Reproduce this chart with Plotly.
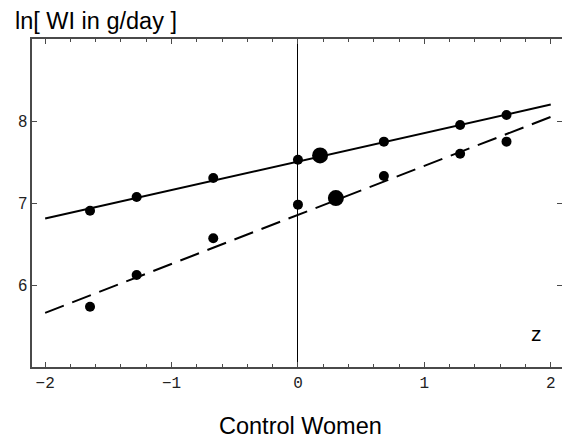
import plotly.graph_objects as go

# ---- data ----
z_upper = [-1.645, -1.276, -0.67, 0.0, 0.68, 1.283, 1.65]
y_upper = [6.906, 7.073, 7.305, 7.528, 7.748, 7.951, 8.073]
z_upper_big = [0.175]
y_upper_big = [7.58]

z_lower = [-1.645, -1.276, -0.67, 0.0, 0.68, 1.283, 1.65]
y_lower = [5.735, 6.122, 6.57, 6.98, 7.33, 7.60, 7.748]
z_lower_big = [0.30]
y_lower_big = [7.06]

fit_z = [-2.0, 2.0]
fit_upper = [6.81, 8.20]
fit_lower = [5.66, 8.05]

x_ticks = [-2, -1, 0, 1, 2]
x_tick_text = ["\u22122", "\u22121", "0", "1", "2"]
y_ticks = [6, 7, 8]

FRAME = "#4a4a4a"
X_RANGE = [-2.104, 2.089]
Y_RANGE = [5, 9]

fig = go.Figure()

fig.add_trace(go.Scatter(x=fit_z, y=fit_upper, mode="lines",
                         line=dict(color="black", width=2), showlegend=False))
fig.add_trace(go.Scatter(x=fit_z, y=fit_lower, mode="lines",
                         line=dict(color="black", width=2, dash="20px,9px"), showlegend=False))
fig.add_trace(go.Scatter(x=z_upper, y=y_upper, mode="markers",
                         marker=dict(color="black", size=10), showlegend=False))
fig.add_trace(go.Scatter(x=z_lower, y=y_lower, mode="markers",
                         marker=dict(color="black", size=10), showlegend=False))
fig.add_trace(go.Scatter(x=z_upper_big, y=y_upper_big, mode="markers",
                         marker=dict(color="black", size=16), showlegend=False))
fig.add_trace(go.Scatter(x=z_lower_big, y=y_lower_big, mode="markers",
                         marker=dict(color="black", size=16), showlegend=False))
# empty trace so the mirrored tick axes (top / right) are drawn
fig.add_trace(go.Scatter(x=[], y=[], xaxis="x2", yaxis="y2", showlegend=False, hoverinfo="skip"))

fig.update_layout(
    width=562, height=445,
    margin=dict(l=32, r=0, t=39, b=78),
    paper_bgcolor="white", plot_bgcolor="white",
    xaxis=dict(
        range=X_RANGE,
        tickvals=x_ticks, ticktext=x_tick_text,
        ticks="inside", ticklen=5, tickwidth=1, tickcolor=FRAME,
        minor=dict(dtick=0.2, tick0=0, ticks="inside", ticklen=3, tickcolor=FRAME, showgrid=False),
        showline=True, linecolor=FRAME, linewidth=1.5, mirror=True,
        showgrid=False,
        zeroline=True, zerolinecolor="black", zerolinewidth=1,
        tickfont=dict(family="Liberation Mono", size=16, color="#222"),
    ),
    xaxis2=dict(
        range=X_RANGE, overlaying="x", side="top",
        tickvals=x_ticks, showticklabels=False,
        ticks="inside", ticklen=5, tickwidth=1, tickcolor=FRAME,
        minor=dict(dtick=0.2, tick0=0, ticks="inside", ticklen=3, tickcolor=FRAME, showgrid=False),
        showline=False, showgrid=False, zeroline=False,
    ),
    yaxis=dict(
        range=Y_RANGE,
        tickvals=y_ticks,
        ticks="inside", ticklen=5, tickwidth=1, tickcolor=FRAME,
        showline=True, linecolor=FRAME, linewidth=1.5, mirror=False,
        showgrid=False, zeroline=False,
        tickfont=dict(family="Liberation Sans", size=16, color="#222"),
    ),
    yaxis2=dict(
        range=Y_RANGE, overlaying="y", side="right",
        tickvals=y_ticks, showticklabels=False,
        ticks="inside", ticklen=5, tickwidth=1, tickcolor=FRAME,
        showline=False, showgrid=False, zeroline=False,
    ),
    annotations=[
        dict(text="ln[ WI in g/day ]", xref="paper", yref="paper",
             x=-19 / 530, y=(367 - 21) / 328, xanchor="left", yanchor="middle",
             showarrow=False, font=dict(family="Liberation Sans", size=23.5, color="black")),
        dict(text="z", xref="x", yref="y", x=1.89, y=5.41,
             xanchor="center", yanchor="middle", showarrow=False,
             font=dict(family="Liberation Sans", size=21, color="black")),
        dict(text="Control Women", xref="paper", yref="paper",
             x=(300.5 - 32) / 530, y=(367 - 426) / 328, xanchor="center", yanchor="middle",
             showarrow=False, font=dict(family="Liberation Sans", size=23.5, color="black")),
    ],
)

fig.write_html("out.html")
